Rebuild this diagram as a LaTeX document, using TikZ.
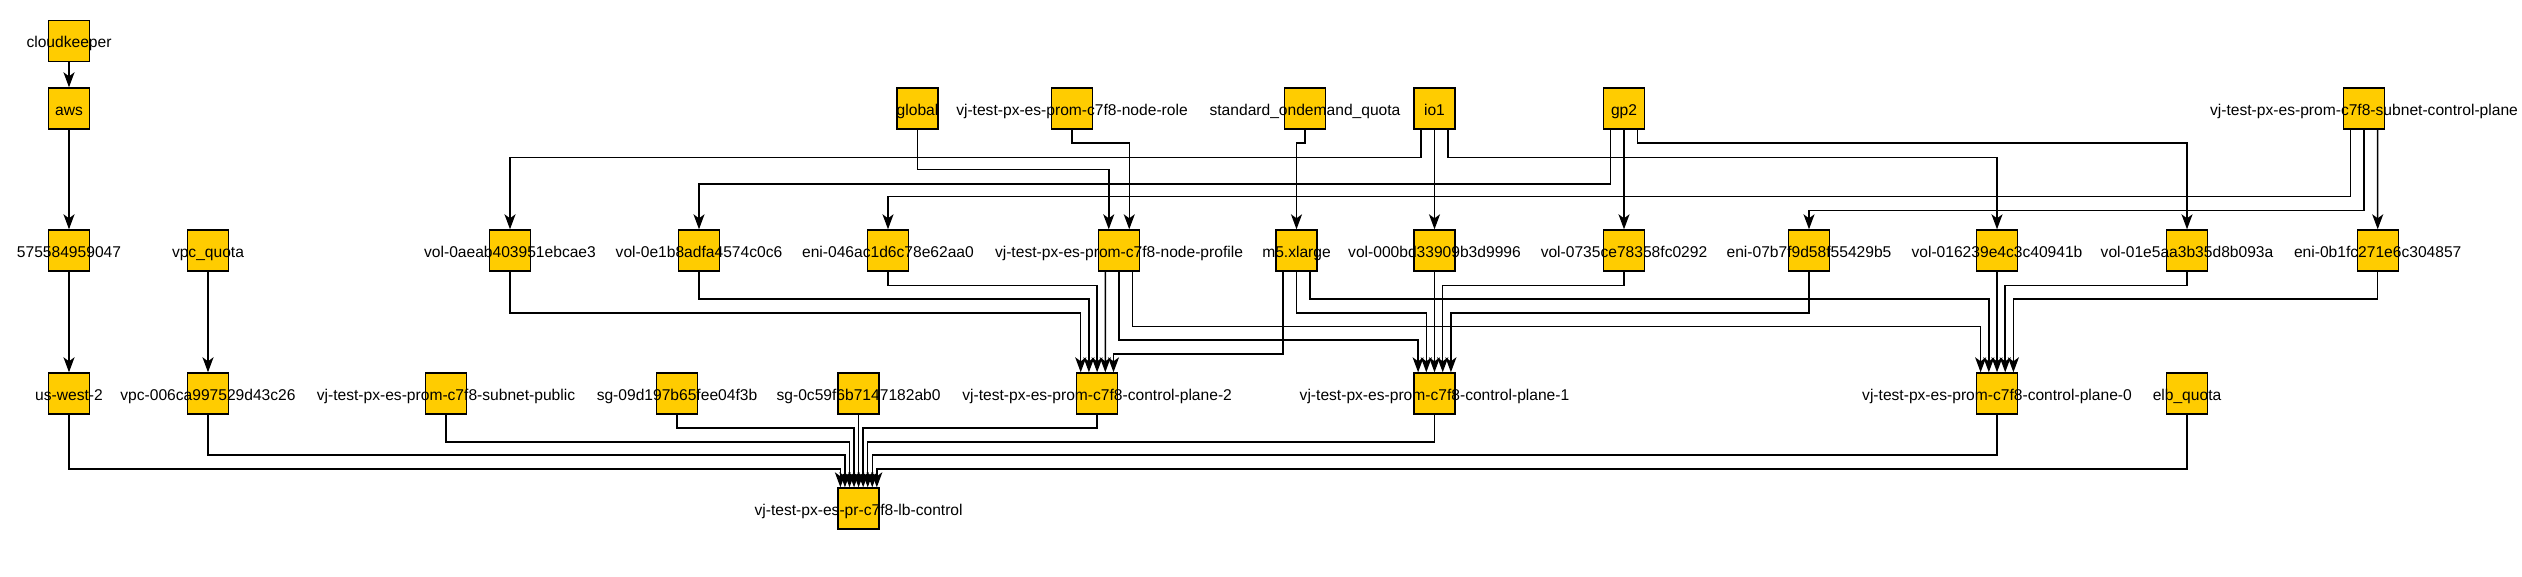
\documentclass[tikz,border=0pt]{standalone}
\usepackage{fontspec}
\setmainfont{Liberation Sans}
\usetikzlibrary{arrows.meta}
\definecolor{boxfill}{HTML}{FFCC00}
\newcommand{\nm}[1]{\makebox[0pt]{#1}}
\tikzset{
  res/.style={draw=black, line width=1.4pt, fill=boxfill, minimum width=41pt,
    minimum height=41pt, inner sep=0pt, font=\fontsize{15.6}{18}\selectfont,
    text height=14pt, text depth=0.8pt},
  link/.style={draw=black, line width=1.5pt, -{Stealth[length=15pt,width=11pt,inset=4pt]}},
}
\begin{document}
\begin{tikzpicture}[x=1pt,y=-1pt]
\useasboundingbox (0,0) rectangle (2522,576);
% top rows
\node [res] (ck) at (69,41) {\nm{cloudkeeper}};
\node [res] (aws) at (69,108.5) {\nm{aws}};
\node [res] (global) at (917.5,108.5) {\nm{global}};
\node [res] (role) at (1072,108.5) {\nm{vj-test-px-es-prom-c7f8-node-role}};
\node [res] (odquota) at (1305,108.5) {\nm{standard\_ondemand\_quota}};
\node [res] (ioone) at (1434.5,108.5) {\nm{io1}};
\node [res] (gptwo) at (1624,108.5) {\nm{gp2}};
\node [res] (subcp) at (2364,108.5) {\nm{vj-test-px-es-prom-c7f8-subnet-control-plane}};
% middle row
\node [res] (acct) at (69,250.5) {\nm{575584959047}};
\node [res] (vpcquota) at (208,250.5) {\nm{vpc\_quota}};
\node [res] (vola) at (510,250.5) {\nm{vol-0aeab403951ebcae3}};
\node [res] (volb) at (699,250.5) {\nm{vol-0e1b8adfa4574c0c6}};
\node [res] (enia) at (888,250.5) {\nm{eni-046ac1d6c78e62aa0}};
\node [res] (profile) at (1119,250.5) {\nm{vj-test-px-es-prom-c7f8-node-profile}};
\node [res] (mfive) at (1296.5,250.5) {\nm{m5.xlarge}};
\node [res] (volc) at (1434.5,250.5) {\nm{vol-000bd33909b3d9996}};
\node [res] (vold) at (1624,250.5) {\nm{vol-0735ce78358fc0292}};
\node [res] (enib) at (1809,250.5) {\nm{eni-07b7f9d58f55429b5}};
\node [res] (vole) at (1997,250.5) {\nm{vol-016239e4c3c40941b}};
\node [res] (volf) at (2187,250.5) {\nm{vol-01e5aa3b35d8b093a}};
\node [res] (enic) at (2377.7,250.5) {\nm{eni-0b1fc271e6c304857}};
% lower rows
\node [res] (uswest) at (69,393.5) {\nm{us-west-2}};
\node [res] (vpc) at (208,393.5) {\nm{vpc-006ca997529d43c26}};
\node [res] (subpub) at (446,393.5) {\nm{vj-test-px-es-prom-c7f8-subnet-public}};
\node [res] (sgone) at (677,393.5) {\nm{sg-09d197b65fee04f3b}};
\node [res] (sgtwo) at (858.6,393.5) {\nm{sg-0c59f6b7147182ab0}};
\node [res] (cptwo) at (1097.1,393.5) {\nm{vj-test-px-es-prom-c7f8-control-plane-2}};
\node [res] (cpone) at (1434.5,393.5) {\nm{vj-test-px-es-prom-c7f8-control-plane-1}};
\node [res] (cpzero) at (1997,393.5) {\nm{vj-test-px-es-prom-c7f8-control-plane-0}};
\node [res] (elbquota) at (2187,393.5) {\nm{elb\_quota}};
\node [res] (lb) at (858.6,508.5) {\nm{vj-test-px-es-pr-c7f8-lb-control}};
% straight links
\draw [link] (ck) -- (aws);
\draw [link] (aws) -- (acct);
\draw [link] (acct) -- (uswest);
\draw [link] (vpcquota) -- (vpc);
% top to middle
\draw [link] ([xshift=-13.67pt]ioone.south) -- ++(0,27.7) -| (vola.north);
\draw [link] (ioone) -- (volc);
\draw [link] ([xshift=13.67pt]ioone.south) -- ++(0,27.7) -| (vole.north);
\draw [link] ([xshift=-13.67pt]gptwo.south) -- ++(0,54.3) -| (volb.north);
\draw [link] (gptwo) -- (vold);
\draw [link] ([xshift=13.67pt]gptwo.south) -- ++(0,13.3) -| (volf.north);
\draw [link] (global.south) -- ++(0,39.7) -| ([xshift=-10.25pt]profile.north);
\draw [link] (role.south) -- ++(0,13.3) -| ([xshift=10.25pt]profile.north);
\draw [link] (odquota.south) -- ++(0,13.3) -| (mfive.north);
\draw [link] ([xshift=-13.67pt]subcp.south) -- ++(0,67) -| (enia.north);
\draw [link] (subcp.south) -- ++(0,81) -| (enib.north);
\draw [link] ([xshift=13.67pt]subcp.south) -- (enic.north);
% middle to control planes
\draw [link] (vola.south) -- ++(0,41.3) -| ([xshift=-16.4pt]cptwo.north);
\draw [link] (volb.south) -- ++(0,27.3) -| ([xshift=-8.2pt]cptwo.north);
\draw [link] (enia.south) -- ++(0,14) -| (cptwo.north);
\draw [link] ([xshift=-13.67pt]profile.south) -- ([xshift=8.2pt]cptwo.north);
\draw [link] ([xshift=-13.67pt]mfive.south) -- ++(0,82.3) -| ([xshift=16.4pt]cptwo.north);
\draw [link] (profile.south) -- ++(0,68.3) -| ([xshift=-16.4pt]cpone.north);
\draw [link] (mfive.south) -- ++(0,41.3) -| ([xshift=-8.2pt]cpone.north);
\draw [link] (volc) -- (cpone);
\draw [link] (vold.south) -- ++(0,14) -| ([xshift=8.2pt]cpone.north);
\draw [link] (enib.south) -- ++(0,41.3) -| ([xshift=16.4pt]cpone.north);
\draw [link] ([xshift=13.67pt]profile.south) -- ++(0,54.7) -| ([xshift=-16.4pt]cpzero.north);
\draw [link] ([xshift=13.67pt]mfive.south) -- ++(0,27.3) -| ([xshift=-8.2pt]cpzero.north);
\draw [link] (vole) -- (cpzero);
\draw [link] (volf.south) -- ++(0,14) -| ([xshift=8.2pt]cpzero.north);
\draw [link] (enic.south) -- ++(0,27.3) -| ([xshift=16.4pt]cpzero.north);
% into the load balancer
\draw [link] (uswest.south) -- ++(0,54.3) -| ([xshift=-18.22pt]lb.north);
\draw [link] (vpc.south) -- ++(0,40.3) -| ([xshift=-13.67pt]lb.north);
\draw [link] (subpub.south) -- ++(0,27.3) -| ([xshift=-9.11pt]lb.north);
\draw [link] (sgone.south) -- ++(0,13.3) -| ([xshift=-4.56pt]lb.north);
\draw [link] (sgtwo) -- (lb);
\draw [link] (cptwo.south) -- ++(0,13.3) -| ([xshift=4.56pt]lb.north);
\draw [link] (cpone.south) -- ++(0,27.3) -| ([xshift=9.11pt]lb.north);
\draw [link] (cpzero.south) -- ++(0,40.3) -| ([xshift=13.67pt]lb.north);
\draw [link] (elbquota.south) -- ++(0,54.3) -| ([xshift=18.22pt]lb.north);
\end{tikzpicture}
\end{document}
